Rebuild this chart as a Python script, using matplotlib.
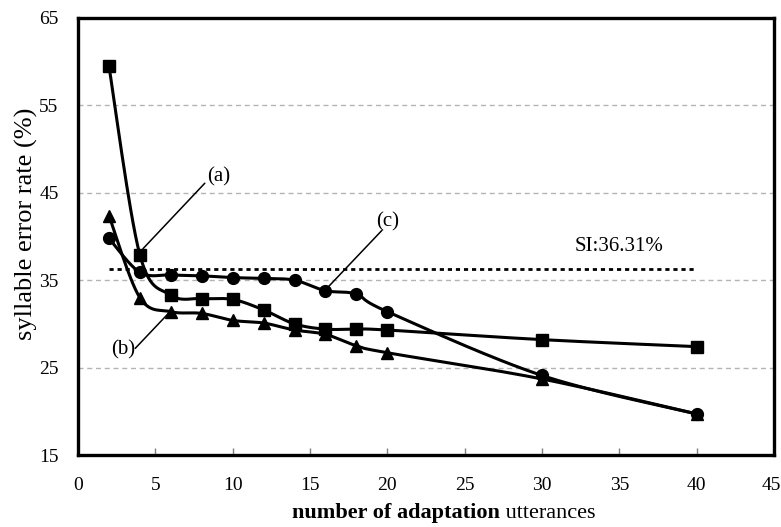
import numpy as np
import matplotlib
matplotlib.use("Agg")
import matplotlib.pyplot as plt
import matplotlib.transforms as mtransforms

# ---- data ----
utterances = [2, 4, 6, 8, 10, 12, 14, 16, 18, 20, 30, 40]
series_a = [59.5, 37.9, 33.3, 32.9, 32.8, 31.6, 30.0, 29.4, 29.4, 29.3, 28.2, 27.4]   # squares
series_c = [39.8, 35.9, 35.6, 35.5, 35.3, 35.2, 35.0, 33.8, 33.4, 31.4, 24.1, 19.7]   # circles
series_b = [42.4, 33.0, 31.4, 31.2, 30.4, 30.1, 29.3, 28.8, 27.5, 26.7, 23.7, 19.7]   # triangles
si_rate = 36.31
si_label = "SI:36.31%"
x_ticks = [0, 5, 10, 15, 20, 25, 30, 35, 40, 45]
y_ticks = [15, 25, 35, 45, 55, 65]
xlabel_bold = "number of adaptation"
xlabel_rest = " utterances"
ylabel = "syllable error rate (%)"

plt.rcParams['font.family'] = ['Liberation Serif', 'DejaVu Serif']

W, H = 781, 527
fig = plt.figure(figsize=(W / 100, H / 100), dpi=100)
ax = fig.add_axes([78 / W, (H - 455) / H, 696 / W, 437 / H])

XS, YS = 15.47, 8.74  # approx px per unit, for smoothing in display-like space


def smooth(xs, ys, n=30):
    P = np.column_stack([np.asarray(xs, float) * XS, np.asarray(ys, float) * YS])
    P = np.vstack([P[0], P, P[-1]])
    out = []
    for i in range(1, len(P) - 2):
        p0, p1, p2, p3 = P[i - 1], P[i], P[i + 1], P[i + 2]
        t = np.linspace(0, 1, n)[:, None]
        c = 0.5 * ((2 * p1) + (-p0 + p2) * t + (2 * p0 - 5 * p1 + 4 * p2 - p3) * t ** 2
                   + (-p0 + 3 * p1 - 3 * p2 + p3) * t ** 3)
        out.append(c)
    C = np.vstack(out)
    return C[:, 0] / XS, C[:, 1] / YS


for ys, mk, ms in [(series_a, 's', 8), (series_c, 'o', 8.5), (series_b, '^', 8.5)]:
    sx, sy = smooth(utterances, ys)
    ax.plot(sx, sy, color='black', lw=2.2, zorder=3)
    ax.plot(utterances, ys, linestyle='none', marker=mk, ms=ms, color='black', zorder=4)

# SI reference line
ax.plot([utterances[0], utterances[-1]], [si_rate, si_rate], color='black', lw=2,
        linestyle=(0, (1.5, 1.4)), zorder=2)
ax.text(35.0, 38.8, si_label, fontsize=15, ha='center', va='center')

# annotations: label text and leader line
for lab, txt_xy, line_from, line_to in [
        ('(a)', (9.1, 46.8), (8.2, 46.1), (4.2, 38.6)),
        ('(b)', (2.9, 27.0), (3.7, 27.2), (5.95, 31.4)),
        ('(c)', (20.0, 41.7), (19.65, 40.7), (16.0, 33.9))]:
    ax.text(txt_xy[0], txt_xy[1], lab, fontsize=15, ha='center', va='center', zorder=5)
    ax.annotate('', xy=line_to, xytext=line_from,
                arrowprops=dict(arrowstyle='-', color='black', lw=1.1, shrinkA=0, shrinkB=0))

ax.set_xlim(0, 45)
ax.set_ylim(15, 65)
ax.set_xticks(x_ticks)
ax.set_yticks(y_ticks)
for y in y_ticks[1:-1]:
    ax.axhline(y, color='#b4b4b4', lw=1, linestyle=(0, (3.6, 2.7)), zorder=1)

ax.tick_params(axis='x', direction='in', length=5, width=1, pad=16, labelsize=14, top=False,
               color='#808080')
ax.tick_params(axis='y', length=0, pad=14, labelsize=14)
for s in ax.spines.values():
    s.set_linewidth(2.4)

ax.set_ylabel(ylabel, fontsize=19)
ax.yaxis.set_label_coords((38 - 78) / 696, 0.53)

# keep the last x tick label inside the canvas
fig.canvas.draw()
last = ax.get_xticklabels()[-1]
last.set_horizontalalignment('right')
last.set_transform(last.get_transform() + mtransforms.ScaledTranslation(6.5 / 100, 0, fig.dpi_scale_trans))

# x label: bold part + regular part, centred as a whole
r = fig.canvas.get_renderer()
t1 = fig.text(0, 0, xlabel_bold, fontsize=16, fontweight='bold', ha='left', va='center')
t2 = fig.text(0, 0, xlabel_rest, fontsize=16, ha='left', va='center')
w1 = t1.get_window_extent(r).width
w2 = t2.get_window_extent(r).width
cx, cy = 444, H - 513
x0 = cx - (w1 + w2) / 2
t1.set_position((x0 / W, cy / H))
t2.set_position(((x0 + w1) / W, cy / H))

fig.savefig('out.png', dpi=100)
